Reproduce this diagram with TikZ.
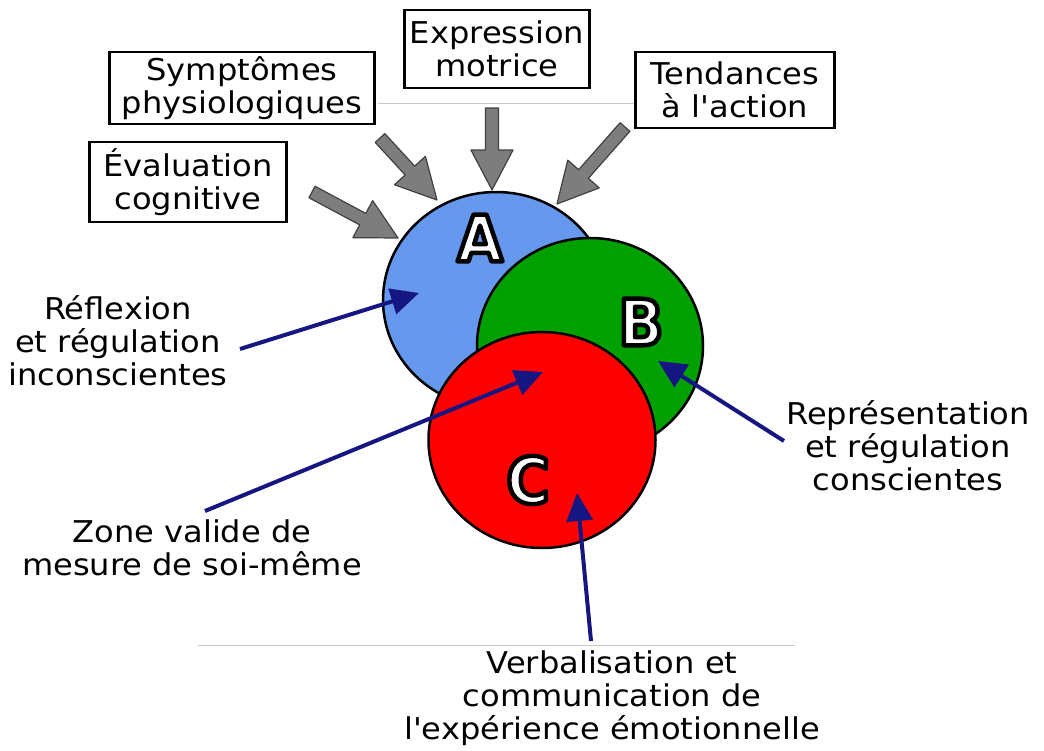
\documentclass[tikz,border=0pt]{standalone}
\usepackage{fontspec}
\setmainfont{DejaVu Sans}[FakeStretch=1.07, Ligatures=TeXOff]
\newfontfamily\letterfont{DejaVu Sans}[FakeStretch=0.92]
\usetikzlibrary{arrows.meta,calc,shapes.geometric}

\definecolor{circA}{RGB}{102,153,238}
\definecolor{circB}{RGB}{0,160,0}
\definecolor{circC}{RGB}{255,0,0}
\definecolor{navyarrow}{RGB}{22,22,130}
\definecolor{arrowgray}{RGB}{125,125,125}
\definecolor{arrowedge}{RGB}{65,65,65}
\definecolor{faint}{RGB}{200,200,200}

\tikzset{
  txt/.style={font=\fontsize{30}{33}\selectfont, align=center, inner sep=0pt},
  box/.style={txt, draw, line width=2.5pt, fill=white},
  zone/.style={ellipse, draw, line width=2.5pt, minimum width=226pt, minimum height=216pt, inner sep=0pt},
  lettertxt/.style={font=\letterfont\bfseries\fontsize{64}{64}\selectfont, inner sep=0pt, text=white},
  bluearrow/.style={draw=navyarrow, line width=4pt, -{Triangle[length=28pt, width=26pt]}, navyarrow},
  grayarrow/.style={fill=arrowgray, draw=arrowedge, line width=1.2pt, line join=round},
  faintline/.style={draw=faint, line width=1pt}
}

% block arrow from #1 to #2; #3 names the point where the head starts
\newcommand\blockarrow[3]{%
  \coordinate (#3) at ($(#2)!40pt!(#1)$);
  \draw[grayarrow] ($(#1)!6.5pt!90:(#2)$) -- ($(#3)!6.5pt!-90:(#1)$) -- ($(#3)!21pt!-90:(#1)$)
    -- (#2) -- ($(#3)!21pt!90:(#1)$) -- ($(#3)!6.5pt!90:(#1)$) -- ($(#1)!6.5pt!-90:(#2)$) -- cycle;
}

% white letter, filled and stroked in black (text render mode 2)
\newcommand\outlinedletter[1]{%
  \special{pdf:literal direct 2 Tr 4.5 w 0 G 1 j}#1\special{pdf:literal direct 0 Tr}%
}

\begin{document}
\begin{tikzpicture}[x=1pt, y={(0pt,-1pt)}]
\useasboundingbox[fill=white] (0,0) rectangle (1044,750);

% faint rules
\coordinate (r1a) at (378,103); \coordinate (r1b) at (636,103);
\coordinate (r2a) at (198,645); \coordinate (r2b) at (795,645);
\draw[faintline] (r1a) -- (r1b);
\draw[faintline] (r2a) -- (r2b);

% boxes
\node[box, minimum width=197pt, minimum height=80pt] (eval) at (188,182) {Évaluation\\cognitive};
\node[box, minimum width=265pt, minimum height=72pt] (symp) at (242,88) {Symptômes\\physiologiques};
\node[box, minimum width=185pt, minimum height=78pt] (expr) at (497,49) {Expression\\motrice};
\node[box, minimum width=199pt, minimum height=76pt] (tend) at (735,90) {Tendances\\à l'action};

% three overlapping zones
\node[zone, fill=circA] (A) at (496,300) {};
\node[zone, fill=circB] (B) at (590,346) {};
\node[zone, fill=circC, minimum width=227pt] (C) at (542,440) {};

\node[lettertxt] (la) at (480,238) {\outlinedletter{A}};
\node[lettertxt] (lb) at (641,322) {\outlinedletter{B}};
\node[lettertxt] (lc) at (528,480) {\outlinedletter{C}};

% gray input arrows
\coordinate (evs) at (312,192); \coordinate (evt) at (398,238);
\coordinate (sys) at (380,138); \coordinate (syt) at (437,200);
\coordinate (exs) at (492,108); \coordinate (ext) at (492,190);
\coordinate (tes) at (625,127); \coordinate (tet) at (557,204);
\blockarrow{evs}{evt}{evh}
\blockarrow{sys}{syt}{syh}
\blockarrow{exs}{ext}{exh}
\blockarrow{tes}{tet}{teh}

% labels
\node[txt] (refl) at (118,341) {Réflexion\\et régulation\\inconscientes};
\node[txt] (zonelbl) at (192,548) {Zone valide de\\mesure de soi-même};
\node[txt] (repr) at (908,446) {Représentation\\et régulation\\conscientes};
\node[txt] (verb) at (612,698) {Verbalisation et\\communication de\\l'expérience émotionnelle};

% pointer arrows
\coordinate (rfs) at (240,349); \coordinate (rft) at (419,293);
\coordinate (zos) at (205,511); \coordinate (zot) at (543,372);
\coordinate (res) at (784,441); \coordinate (ret) at (658,361);
\coordinate (ves) at (591,641); \coordinate (vet) at (577,493);
\draw[bluearrow] (rfs) -- (rft);
\draw[bluearrow] (zos) -- (zot);
\draw[bluearrow] (res) -- (ret);
\draw[bluearrow] (ves) -- (vet);
\end{tikzpicture}
\end{document}
